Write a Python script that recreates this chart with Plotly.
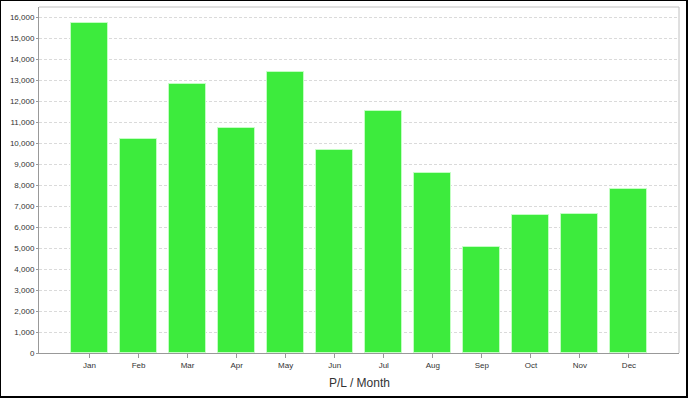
import plotly.graph_objects as go

months = ["Jan", "Feb", "Mar", "Apr", "May", "Jun", "Jul", "Aug", "Sep", "Oct", "Nov", "Dec"]
pl_values = [15714, 10190, 12810, 10730, 13381, 9681, 11505, 8586, 5029, 6571, 6633, 7824]
y_tick_values = list(range(0, 16001, 1000))
y_tick_labels = [f"{v:,}" for v in y_tick_values]
x_title = "P/L / Month"

W, H = 688, 398
ML, MR, MT, MB = 39, 9, 7, 45
PW, PH = W - ML - MR, H - MT - MB


def px(x):
    return (x - ML) / PW


def py(y):
    return (H - MB - y) / PH


fig = go.Figure()
fig.add_trace(go.Bar(
    x=list(range(len(months))),
    y=pl_values,
    width=0.755,
    marker=dict(color="#3deb3d", line=dict(color="rgba(200,255,200,0.9)", width=1)),
    hoverinfo="y",
))

fig.update_layout(
    width=W, height=H,
    margin=dict(l=ML, r=MR, t=MT, b=MB, autoexpand=False),
    paper_bgcolor="white",
    plot_bgcolor="white",
    showlegend=False,
    font=dict(family="Liberation Sans, Arial, sans-serif", size=8, color="#333333"),
    bargap=0,
)

fig.update_xaxes(
    automargin=False,
    range=[-1.03, 12.02],
    tickmode="array",
    tickvals=list(range(len(months))),
    ticktext=months,
    showgrid=False,
    zeroline=False,
    showline=True, linecolor="#999", linewidth=1,
    ticks="outside", ticklen=4, tickcolor="#999",
    tickfont=dict(size=8, color="#333333"),
)
fig.update_yaxes(
    automargin=False,
    range=[0, 16476],
    tickmode="array",
    tickvals=y_tick_values,
    ticktext=y_tick_labels,
    showgrid=True, gridcolor="#dadada", griddash="3px,2px", gridwidth=1,
    zeroline=False,
    showline=True, linecolor="#999", linewidth=1,
    ticks="outside", ticklen=2, tickcolor="#999",
    tickfont=dict(size=8, color="#333333"),
)

# top / right plot border
fig.add_shape(type="line", xref="paper", yref="paper", x0=0, x1=1, y0=1, y1=1,
              line=dict(color="#c0c0c0", width=1))
fig.add_shape(type="line", xref="paper", yref="paper", x0=1, x1=1, y0=0, y1=1,
              line=dict(color="#c0c0c0", width=1))

# outer black frame
fig.add_shape(type="rect", xref="paper", yref="paper",
              x0=px(0), x1=px(687), y0=py(397), y1=py(0),
              line=dict(color="black", width=2), fillcolor="rgba(0,0,0,0)")

fig.add_annotation(text=x_title, xref="paper", yref="paper",
                   x=0.5, y=py(383), xanchor="center", yanchor="middle",
                   showarrow=False, font=dict(size=12, color="#333"))

fig.write_html(
    "out.html",
    config={"displayModeBar": False},
    post_script="document.body.style.margin='0';document.body.style.overflow='hidden';",
)
